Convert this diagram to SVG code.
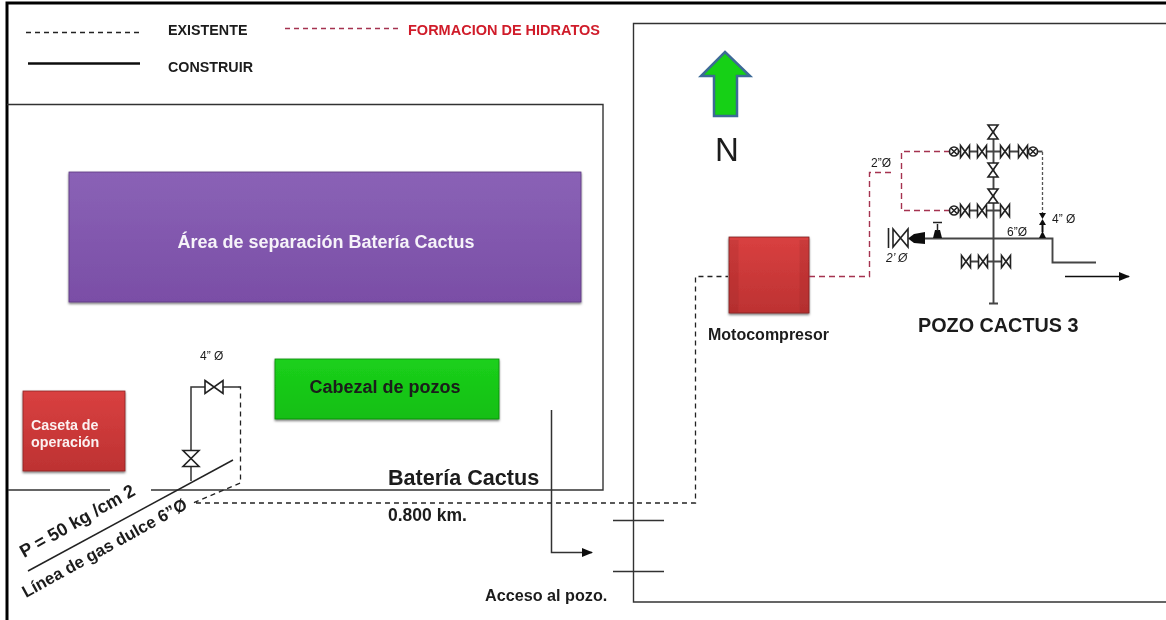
<svg xmlns="http://www.w3.org/2000/svg" xmlns:xlink="http://www.w3.org/1999/xlink" width="1166" height="620" viewBox="0 0 1166 620">
<style>
text{font-family:"Liberation Sans",Arial,sans-serif;fill:#1a1a1a}
.b{font-weight:bold}
.w{font-weight:bold;fill:#fff;opacity:.93}
.frame{fill:none;stroke:#000;stroke-width:3}
.wall{fill:none;stroke:#333;stroke-width:1.4}
.pipe{fill:none;stroke:#333;stroke-width:1.5}
.well{fill:none;stroke:#444;stroke-width:1.9}
.dash{fill:none;stroke:#222;stroke-width:1.3;stroke-dasharray:5 4}
.red{fill:none;stroke:#a5324f;stroke-width:1.4;stroke-dasharray:6 4}
.grey{fill:none;stroke:#555;stroke-width:1.3;stroke-dasharray:3 2}
.v{fill:#fff;stroke:#222;stroke-width:1.6}
.vb{fill:none;stroke:#222;stroke-width:1.5}
.s{fill:#111}
</style>
<defs>
<linearGradient id="pur" x1="0" y1="0" x2="0" y2="1"><stop offset="0" stop-color="#8a62b6"/><stop offset="1" stop-color="#7a4ea6"/></linearGradient>
<linearGradient id="gre" x1="0" y1="0" x2="0" y2="1"><stop offset="0" stop-color="#1bd01b"/><stop offset="1" stop-color="#14bf14"/></linearGradient>
<linearGradient id="rd" x1="0" y1="0" x2="0" y2="1"><stop offset="0" stop-color="#d94040"/><stop offset="1" stop-color="#bd3232"/></linearGradient>
<filter id="sh" x="-5%" y="-5%" width="110%" height="115%"><feDropShadow dx="0" dy="1.5" stdDeviation="1.2" flood-color="#000" flood-opacity=".55"/></filter>
<filter id="soft" x="0" y="0" width="100%" height="100%"><feGaussianBlur stdDeviation="0.4"/></filter>
<marker id="ah" markerWidth="11" markerHeight="10" refX="10" refY="4.500" orient="auto" markerUnits="userSpaceOnUse"><path d="M0,0 L11,4.500 L0,9 Z" fill="#111"/></marker>
<g id="vh"><path class="v" d="M-4.500,-6 L4.500,6 V-6 L-4.500,6 Z"/></g>
<g id="vv"><path class="v" d="M-5,-7 H5 L-5,7 H5 Z"/></g>
<g id="cv"><circle class="v" cx="0" cy="0" r="4.500"/><path class="vb" d="M-3,-3 L3,3 M3,-3 L-3,3"/></g>
</defs>

<g filter="url(#soft)">
<rect width="1166" height="620" fill="#fff"/>
<g id="frame">
<path class="frame" d="M7,620 V3 H1166"/>
<path class="wall" d="M7,104.500 H603 V490 H151 M110,490 H8"/>
<path class="wall" d="M1166,23.500 H633.500 V602 H1166"/>
</g>

<g id="legend">
<path class="dash" d="M26,32.500 H139"/>
<text class="b" x="168" y="35" font-size="14.300">EXISTENTE</text>
<path fill="none" stroke="#a5324f" stroke-width="1.300" stroke-dasharray="5 4" d="M285,28.500 H398"/>
<text class="b" x="408" y="34.500" font-size="14.500" style="fill:#d01c2a">FORMACION DE HIDRATOS</text>
<path fill="none" stroke="#111" stroke-width="2.500" d="M28,63.500 H140"/>
<text class="b" x="168" y="71.500" font-size="14.300">CONSTRUIR</text>
</g>

<g id="north">
<path d="M725,52 L750,76 H737 V116 H714 V76 H701 Z" fill="#12d012" stroke="#3d6a96" stroke-width="2.500"/>
<text x="727" y="161" font-size="33" text-anchor="middle">N</text>
</g>

<g id="separacion">
<rect x="69" y="172" width="512" height="130" fill="url(#pur)" stroke="#5d3a80" stroke-width=".8" filter="url(#sh)"/>
<text class="w" x="326" y="248" font-size="18" text-anchor="middle">Área de separación Batería Cactus</text>
</g>
<g id="cabezal">
<rect x="275" y="359" width="224" height="60" fill="url(#gre)" stroke="#0c8a0c" stroke-width=".8" filter="url(#sh)"/>
<text class="b" x="385" y="393" font-size="18" text-anchor="middle">Cabezal de pozos</text>
</g>
<g id="caseta">
<rect x="23" y="391" width="102" height="80" fill="url(#rd)" stroke="#8c2424" stroke-width=".8" filter="url(#sh)"/>
<text class="w" x="31" y="430" font-size="14.300">Caseta de</text>
<text class="w" x="31" y="447" font-size="14.300">operación</text>
</g>
<g id="motocompresor">
<rect x="729" y="237" width="80" height="76" fill="url(#rd)" stroke="#7d2020" stroke-width=".8" filter="url(#sh)"/>
<rect x="729.500" y="240" width="9" height="72" fill="#8c2424" opacity=".18"/>
<rect x="799.500" y="240" width="9" height="72" fill="#8c2424" opacity=".18"/>
<text class="b" x="708" y="340" font-size="16">Motocompresor</text>
</g>

<g id="connectors">
<path class="pipe" d="M191,451 V387 H205 M223,387 H238"/>
<path class="pipe" d="M191,467 V481"/>
<path fill="none" stroke="#222" stroke-width="1.500" d="M28,571 L233,460"/>
<path class="dash" d="M238,387 H240.500 V483 L193,503 H695.500 V276.500 H728"/>
<path class="red" d="M809,276.500 H869.500 V172.500 H895"/>
<path class="red" d="M950,151.500 H901.500 V210.500 H950"/>
<path class="grey" d="M1042.500,152 V213"/>
<path class="well" d="M1037,151.500 H1042.500"/>
<path class="well" d="M993.500,125 V303 M989,303.500 H998"/>
<path class="well" d="M956,151.500 H1036 M956,210.500 H1009 M962,261.500 H1009"/>
<path class="well" d="M910,238.500 H1052.500 V262.500 H1096"/>
<path fill="none" stroke="#111" stroke-width="1.300" d="M1065,276.500 H1129" marker-end="url(#ah)"/>
<path class="pipe" d="M551.500,410 V552.500 H592" marker-end="url(#ah)"/>
<path class="pipe" d="M613,520.500 H664 M613,571.500 H664"/>
</g>

<g id="valves">
<path class="v" d="M205,380.500 L223,393.500 V380.500 L205,393.500 Z"/>
<path class="v" d="M183,450.500 H199 L183,466.500 H199 Z"/>
<use xlink:href="#vv" href="#vv" x="993" y="132"/>
<use xlink:href="#vv" href="#vv" x="993" y="170"/>
<use xlink:href="#vv" href="#vv" x="993" y="196"/>
<use xlink:href="#cv" href="#cv" x="954" y="151.500"/>
<use xlink:href="#cv" href="#cv" x="1033" y="151.500"/>
<use xlink:href="#cv" href="#cv" x="954" y="210.500"/>
<use xlink:href="#vh" href="#vh" x="965" y="151.500"/>
<use xlink:href="#vh" href="#vh" x="982" y="151.500"/>
<use xlink:href="#vh" href="#vh" x="1005" y="151.500"/>
<use xlink:href="#vh" href="#vh" x="1023" y="151.500"/>
<use xlink:href="#vh" href="#vh" x="965" y="210.500"/>
<use xlink:href="#vh" href="#vh" x="982" y="210.500"/>
<use xlink:href="#vh" href="#vh" x="1005" y="210.500"/>
<use xlink:href="#vh" href="#vh" x="966" y="261.500"/>
<use xlink:href="#vh" href="#vh" x="983" y="261.500"/>
<use xlink:href="#vh" href="#vh" x="1006" y="261.500"/>
<path class="s" d="M1039,213 H1046 L1039,225 H1046 Z"/>
<rect class="s" x="1041.500" y="224" width="2" height="8"/>
<path class="s" d="M1042.500,231 L1046,238 H1039 Z"/>
<path class="s" d="M933,238 L935,230 H940 L942,238 Z"/>
<path class="vb" d="M937.500,231 V224 M933,222.500 H942" stroke-width="2"/>
<path class="s" d="M914,234 L925,232 V244 L914,243 L908,238.500 Z"/>
<path class="v" d="M888.500,228 V248 M893,229 L908,247 V229 L893,247 Z"/>
</g>

<g id="labels">
<text x="200" y="360" font-size="12">4” Ø</text>
<text x="871" y="167" font-size="12">2”Ø</text>
<text x="1052" y="223" font-size="12">4” Ø</text>
<text x="1007" y="236" font-size="12">6”Ø</text>
<text x="886" y="262" font-size="12" font-style="italic">2’ Ø</text>
<text class="b" x="918" y="332" font-size="19.800">POZO CACTUS 3</text>
<text class="b" x="388" y="485" font-size="21.600">Batería Cactus</text>
<text class="b" x="388" y="521" font-size="17.500">0.800 km.</text>
<text class="b" x="485" y="601" font-size="16.200">Acceso al pozo.</text>
<text class="b" transform="translate(24,558) rotate(-29.500)" font-size="18">P = 50 kg /cm 2</text>
<text class="b" transform="translate(26,598) rotate(-29)" font-size="16.800">Línea de gas dulce 6”Ø</text>
</g>
</g>
</svg>
